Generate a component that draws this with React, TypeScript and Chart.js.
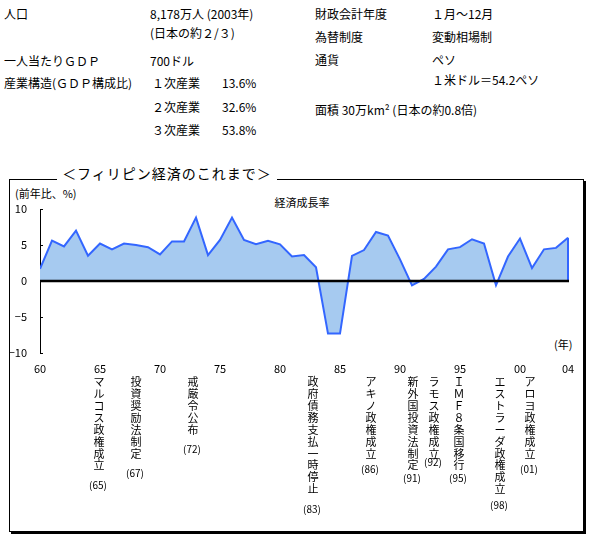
import React, { useEffect, useRef } from "react";
import { Chart, registerables } from "chart.js";

Chart.register(...registerables);

// ---- data ----
const years: number[] = [
  1960, 1961, 1962, 1963, 1964, 1965, 1966, 1967, 1968, 1969,
  1970, 1971, 1972, 1973, 1974, 1975, 1976, 1977, 1978, 1979,
  1980, 1981, 1982, 1983, 1984, 1985, 1986, 1987, 1988, 1989,
  1990, 1991, 1992, 1993, 1994, 1995, 1996, 1997, 1998, 1999,
  2000, 2001, 2002, 2003, 2004,
];
const growth: number[] = [
  1.7, 5.6, 4.8, 7.0, 3.5, 5.2, 4.4, 5.2, 5.0, 4.7,
  3.7, 5.5, 5.5, 8.8, 3.6, 5.7, 8.8, 5.7, 5.1, 5.6,
  5.1, 3.4, 3.6, 1.9, -7.3, -7.3, 3.5, 4.3, 6.8, 6.3,
  3.0, -0.6, 0.3, 2.0, 4.4, 4.7, 5.8, 5.2, -0.6, 3.4,
  5.9, 1.8, 4.4, 4.6, 6.0,
];
const xTickYears: number[] = [1960, 1965, 1970, 1975, 1980, 1985, 1990, 1995, 2000, 2004];
const xTickLabels: string[] = ["60", "65", "70", "75", "80", "85", "90", "95", "00", "04"];
const yTicks: number[] = [-10, -5, 0, 5, 10];

const eventLabels: string[] = [
  "マルコス政権成立",
  "投資奨励法制定",
  "戒厳令公布",
  "政府債務支払一時停止",
  "アキノ政権成立",
  "新外国投資法制定",
  "ラモス政権成立",
  "ＩＭＦ８条国移行",
  "エストラーダ政権成立",
  "アロヨ政権成立",
];
const eventYears: number[] = [1965, 1967, 1972, 1983, 1986, 1991, 1992, 1995, 1998, 2001];
const eventYearLabels: string[] = ["(65)", "(67)", "(72)", "(83)", "(86)", "(91)", "(92)", "(95)", "(98)", "(01)"];

const seriesLabel = "経済成長率";

// ---- layout (pixel nudges for annotation columns) ----
const COL_NUDGE = [-1, 12, 9, -3, 19, 1, 10, -1, 4, -2];
const PAREN_Y = [485, 473, 449, 509, 469, 478, 462, 478, 505, 469];

const FONT = '"Noto Sans CJK JP", "Noto Sans", sans-serif';
const CANVAS_TOP = 180;

function T(props: { x: number; y: number; children: React.ReactNode; size?: number }) {
  return (
    <span
      style={{
        position: "absolute",
        left: props.x,
        top: props.y - 8,
        lineHeight: "16px",
        fontSize: props.size ?? 12,
        whiteSpace: "nowrap",
      }}
    >
      {props.children}
    </span>
  );
}

export default function App() {
  const ref = useRef<HTMLCanvasElement | null>(null);

  useEffect(() => {
    const canvas = ref.current;
    if (!canvas) return;

    const overlay = {
      id: "overlay",
      afterDatasetsDraw(chart: any) {
        const ctx = chart.ctx;
        const xs = chart.scales.x;
        const ys = chart.scales.y;
        const area = chart.chartArea;
        const y0 = ys.getPixelForValue(0);
        const lastX = xs.getPixelForValue(years[years.length - 1]);
        const lastY = ys.getPixelForValue(growth[growth.length - 1]);
        ctx.save();
        // right edge of area
        ctx.strokeStyle = "#3366FF";
        ctx.lineWidth = 2;
        ctx.beginPath();
        ctx.moveTo(lastX, lastY);
        ctx.lineTo(lastX, y0);
        ctx.stroke();
        // zero line
        ctx.strokeStyle = "#000";
        ctx.lineWidth = 2.5;
        ctx.beginPath();
        ctx.moveTo(area.left, y0);
        ctx.lineTo(lastX + 1, y0);
        ctx.stroke();
        // y ticks inward
        ctx.lineWidth = 1;
        for (const v of yTicks) {
          const py = Math.round(ys.getPixelForValue(v)) + 0.5;
          ctx.beginPath();
          ctx.moveTo(area.left, py);
          ctx.lineTo(area.left + 3, py);
          ctx.stroke();
        }
        // annotations
        ctx.fillStyle = "#000";
        ctx.font = "11px " + FONT;
        ctx.textAlign = "center";
        ctx.textBaseline = "middle";
        const firstY = 382 - CANVAS_TOP;
        const step = 11.9;
        eventLabels.forEach((label, i) => {
          const cx = xs.getPixelForValue(eventYears[i]) + COL_NUDGE[i];
          Array.from(label).forEach((ch, k) => {
            ctx.fillText(ch, cx, firstY + k * step);
          });
          ctx.font = "10px " + FONT;
          ctx.fillText(eventYearLabels[i], cx - 1, PAREN_Y[i] - CANVAS_TOP);
          ctx.font = "11px " + FONT;
        });
        ctx.restore();
      },
    };

    const chart = new Chart(canvas, {
      type: "line",
      data: {
        datasets: [
          {
            label: seriesLabel,
            data: years.map((y, i) => ({ x: y, y: growth[i] })),
            fill: "origin",
            backgroundColor: "#A6CAF0",
            borderColor: "#3366FF",
            borderWidth: 2,
            pointRadius: 0,
            tension: 0,
          },
        ],
      },
      options: {
        animation: false,
        responsive: false,
        maintainAspectRatio: false,
        layout: { padding: { left: 0, right: 28, top: 29, bottom: 0 } },
        plugins: { legend: { display: false }, tooltip: { enabled: false } },
        scales: {
          x: {
            type: "linear",
            min: 1960,
            max: 2004,
            afterBuildTicks: (s: any) => {
              s.ticks = xTickYears.map((v) => ({ value: v }));
            },
            afterFit: (s: any) => {
              s.height = 177;
            },
            ticks: {
              autoSkip: false,
              maxRotation: 0,
              padding: 9,
              color: "#000",
              font: { family: FONT, size: 11 },
              callback: (v: any) => {
                const idx = xTickYears.indexOf(Number(v));
                return idx >= 0 ? xTickLabels[idx] : "";
              },
            },
            grid: { display: false, drawTicks: false },
            border: { display: false },
          },
          y: {
            min: -10,
            max: 10,
            afterBuildTicks: (s: any) => {
              s.ticks = yTicks.map((v) => ({ value: v }));
            },
            afterFit: (s: any) => {
              s.width = 40;
            },
            ticks: {
              padding: 13,
              color: "#000",
              font: { family: FONT, size: 11 },
              callback: (v: any) => (Number(v) < 0 ? "−" + Math.abs(Number(v)) : String(v)),
            },
            grid: { display: false, drawTicks: false },
            border: { display: true, color: "#000", width: 1 },
          },
        },
      },
      plugins: [overlay],
    } as any);

    return () => chart.destroy();
  }, []);

  return (
    <div
      style={{
        position: "absolute",
        left: 0,
        top: 0,
        width: 596,
        height: 548,
        background: "#fff",
        fontFamily: FONT,
        color: "#000",
        overflow: "hidden",
      }}
    >
      {/* left info column */}
      <T x={4} y={14}>人口</T>
      <T x={150} y={14}>8,178万人 (2003年)</T>
      <T x={150} y={33}>(日本の約２/３)</T>
      <T x={4} y={61}>一人当たりＧＤＰ</T>
      <T x={150} y={61}>700ドル</T>
      <T x={4} y={83}>産業構造(ＧＤＰ構成比)</T>
      <T x={152} y={83}>１次産業</T>
      <T x={222} y={83}>13.6%</T>
      <T x={152} y={107}>２次産業</T>
      <T x={222} y={107}>32.6%</T>
      <T x={152} y={130}>３次産業</T>
      <T x={222} y={130}>53.8%</T>

      {/* right info column */}
      <T x={315} y={14}>財政会計年度</T>
      <T x={432} y={14}>１月～12月</T>
      <T x={315} y={37}>為替制度</T>
      <T x={432} y={37}>変動相場制</T>
      <T x={315} y={60}>通貨</T>
      <T x={432} y={60}>ペソ</T>
      <T x={432} y={80}>１米ドル＝54.2ペソ</T>
      <T x={315} y={110}>面積 30万km² (日本の約0.8倍)</T>

      {/* frame */}
      <div
        style={{
          position: "absolute",
          left: 9,
          top: 179,
          width: 575,
          height: 353,
          boxSizing: "border-box",
          border: "1px solid #000",
          boxShadow: "2px 2px 0 #000",
        }}
      />
      <div
        style={{
          position: "absolute",
          left: 57,
          top: 162,
          width: 220,
          height: 22,
          background: "#fff",
          textAlign: "center",
          fontSize: 14,
          lineHeight: "22px",
          letterSpacing: 1,
          whiteSpace: "nowrap",
        }}
      >
        ＜フィリピン経済のこれまで＞
      </div>

      <T x={15} y={193} size={11}>(前年比、%)</T>
      <span
        style={{
          position: "absolute",
          left: 252,
          width: 100,
          top: 194,
          lineHeight: "16px",
          fontSize: 11,
          textAlign: "center",
        }}
      >
        {seriesLabel}
      </span>
      <T x={554} y={344} size={11}>(年)</T>

      <canvas
        ref={ref}
        width={596}
        height={350}
        style={{ position: "absolute", left: 0, top: CANVAS_TOP, width: 596, height: 350 }}
      />
    </div>
  );
}
